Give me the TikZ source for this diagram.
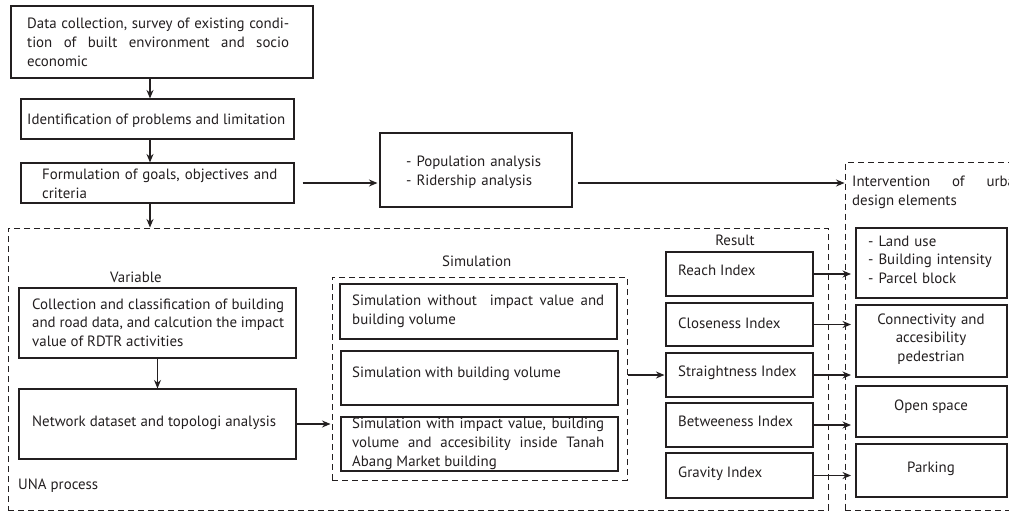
\documentclass[tikz,border=0pt]{standalone}
\usepackage{fontspec}
\setmainfont{PT Sans}
\usetikzlibrary{arrows.meta,calc}
\definecolor{ink}{HTML}{231F20}
\begin{document}
\begin{tikzpicture}[x=1pt,y=-1pt,
  box/.style={draw=ink, line width=1.1pt, inner sep=0pt, rectangle},
  dbox/.style={draw=ink, line width=1pt, inner sep=0pt, rectangle, dash pattern=on 6pt off 4pt},
  txt/.style={inner sep=0pt, text=ink, font=\fontsize{14.9}{19}\selectfont},
  txts/.style={inner sep=0pt, text=ink, font=\fontsize{14.9}{18.5}\selectfont},
  arr/.style={draw=ink, line width=1.1pt, -{Stealth[length=8.5pt,width=7pt]}},
]
\useasboundingbox (0,0) rectangle (1009,511);
\clip (0,0) rectangle (1009,511);
\fill[white] (0,0) rectangle (1009,511);
% dashed containers
\node[dbox, minimum width=820pt, minimum height=282pt] (una) at (418,369) {};
\node[dbox, minimum width=295pt, minimum height=203pt] (simd) at (479.5,378.5) {};
\node[dbox, minimum width=175pt, minimum height=348.5pt] (intv) at (932.5,336.25) {};
% boxes
\node[box, minimum width=302pt, minimum height=72pt] (d1) at (162,42) {};
\node[box, minimum width=273pt, minimum height=40pt] (d2) at (157.5,119) {};
\node[box, minimum width=273pt, minimum height=40pt] (d3) at (157.5,183) {};
\node[box, minimum width=192pt, minimum height=74pt] (pop) at (476,170) {};
\node[box, minimum width=277pt, minimum height=70pt] (coll) at (157.5,323) {};
\node[box, minimum width=277pt, minimum height=70pt] (net) at (157.5,424) {};
\node[box, minimum width=277pt, minimum height=55pt] (s1) at (478.5,311.5) {};
\node[box, minimum width=277pt, minimum height=54pt] (s2) at (479.5,378) {};
\node[box, minimum width=277pt, minimum height=54pt] (s3) at (479.5,444) {};
\node[box, minimum width=147pt, minimum height=44pt] (r1) at (739.5,274) {};
\node[box, minimum width=147pt, minimum height=43pt] (r2) at (739.5,324.5) {};
\node[box, minimum width=147pt, minimum height=44pt] (r3) at (739.5,375) {};
\node[box, minimum width=147pt, minimum height=44pt] (r4) at (739.5,425) {};
\node[box, minimum width=147pt, minimum height=45pt] (r5) at (739.5,475.5) {};
\node[box, minimum width=151pt, minimum height=70pt] (i1) at (931.5,263) {};
\node[box, minimum width=151pt, minimum height=72pt] (i2) at (931.5,341) {};
\node[box, minimum width=151pt, minimum height=51pt] (i3) at (931.5,411.5) {};
\node[box, minimum width=151pt, minimum height=53pt] (i4) at (931.5,470.5) {};
% texts
\node[txt, anchor=base west, text width=262pt, align=justify] (t1) at (27,29)
  {Data collection, survey of existing condi-\linebreak tion of built environment and socio\linebreak economic};
\node[txt, anchor=base west] (t2) at (27,124) {Identification of problems and limitation};
\node[txt, anchor=base west, text width=240pt, align=left] (t3) at (42,179) {Formulation of goals, objectives and\\criteria};
\node[txt, anchor=base west, text width=160pt, align=left] (tpop) at (406,166) {- Population analysis\\- Ridership analysis};
\node[txt, anchor=base west] (tvar) at (110,282) {Variable};
\node[txts, anchor=base west, text width=252pt, align=justify] (tcoll) at (32,309)
  {Collection and classification of building\linebreak and road data, and calcution the impact\linebreak value of RDTR activities};
\node[txt, anchor=base west] (tnet) at (32,426) {Network dataset and topologi analysis};
\node[txt, anchor=base west] (tuna) at (18,489) {UNA process};
\node[txt, anchor=base west] (tsim) at (442,266) {Simulation};
\node[txt, anchor=base west, text width=252pt, align=justify] (ts1) at (352,305)
  {Simulation without\ \ impact value and\linebreak building volume};
\node[txt, anchor=base west] (ts2) at (352,377) {Simulation with building volume};
\node[txt, anchor=base west, text width=252pt, align=justify] (ts3) at (352,428)
  {Simulation with impact value, building\linebreak volume and accesibility inside Tanah\linebreak Abang Market building};
\node[txt, anchor=base] (tres) at (735,245) {Result};
\node[txt, anchor=base west] (tr1) at (678,275) {Reach Index};
\node[txt, anchor=base west] (tr2) at (678,328) {Closeness Index};
\node[txt, anchor=base west] (tr3) at (678,376) {Straightness Index};
\node[txt, anchor=base west] (tr4) at (678,426) {Betweeness Index};
\node[txt, anchor=base west] (tr5) at (678,477) {Gravity Index};
\node[txt, anchor=base west, text width=171pt, align=justify] (tint) at (852,186)
  {Intervention of urban\linebreak design elements};
\node[txts, anchor=base west, text width=135pt, align=left] (ti1) at (868,246) {- Land use\\- Building intensity\\- Parcel block};
\node[txts, anchor=base, text width=151pt, align=center] (ti2) at (931,324) {Connectivity and\\accesibility\\pedestrian};
\node[txt, anchor=base] (ti3) at (931,410) {Open space};
\node[txt, anchor=base] (ti4) at (931,472) {Parking};
% connectors
\coordinate (ax) at (150,0);
\coordinate (ix) at (851,0);
\draw[arr] (d1.south -| ax) -- (d2.north -| ax);
\draw[arr] (d2.south -| ax) -- (d3.north -| ax);
\draw[arr] (d3.south -| ax) -- (una.north -| ax);
\draw[arr, shorten <=8pt, shorten >=2pt] (d3.east) -- (d3.east -| pop.west);
\draw[arr, shorten <=5pt] (pop.east |- d3.east) -- (d3.east -| intv.west);
\draw[arr] (coll.south) -- (net.north);
\draw[arr, shorten >=1pt] (net.east) -- (net.east -| simd.west);
\draw[arr, shorten >=1pt] (simd.east |- r3.west) -- (r3.west);
\draw[arr] (r1.east) -- (r1.east -| ix);
\draw[arr] (r2.east) -- (r2.east -| ix);
\draw[arr] (r3.east) -- (r3.east -| ix);
\draw[arr] (r4.east) -- (r4.east -| ix);
\draw[arr] (r5.east) -- (r5.east -| ix);
\end{tikzpicture}
\end{document}
